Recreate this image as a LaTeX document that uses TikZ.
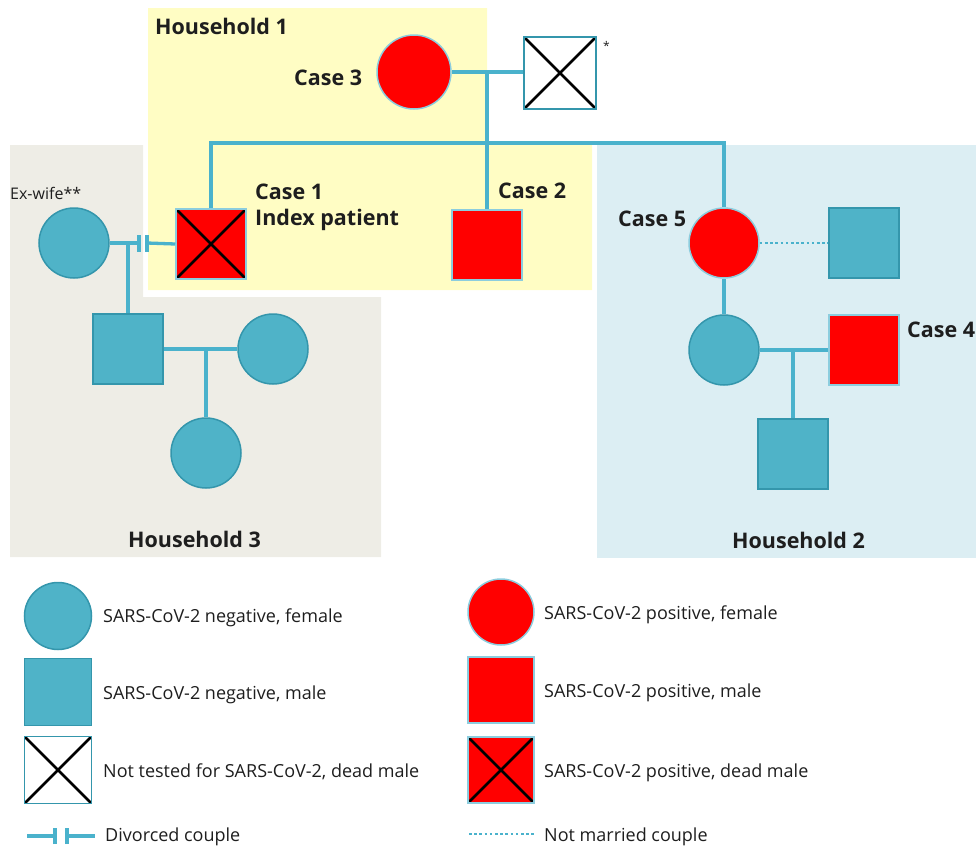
\documentclass[tikz,border=0pt]{standalone}
\usepackage{fontspec}
\setmainfont{Open Sans}
\definecolor{tealfill}{RGB}{79,179,200}
\definecolor{tealedge}{RGB}{52,150,172}
\definecolor{linecol}{RGB}{74,178,204}
\definecolor{posred}{RGB}{255,0,0}
\definecolor{posedge}{RGB}{140,205,222}
\definecolor{yellowbg}{RGB}{255,253,196}
\definecolor{graybg}{RGB}{238,237,230}
\definecolor{bluebg}{RGB}{220,238,243}
\definecolor{txt}{RGB}{30,30,30}
\tikzset{
  person/.style={inner sep=0pt, line width=1.5pt},
  female/.style={person, circle, minimum size=70pt},
  male/.style={person, rectangle, minimum size=70pt},
  negstyle/.style={fill=tealfill, draw=tealedge},
  posstyle/.style={fill=posred, draw=posedge},
  untested/.style={fill=white, draw=tealedge},
  dead/.style={path picture={\draw[black, line width=2.5pt]
     (path picture bounding box.south west) -- (path picture bounding box.north east)
     (path picture bounding box.north west) -- (path picture bounding box.south east);}},
  link/.style={draw=linecol, line width=3.3pt},
  unmarried/.style={draw=linecol, line width=2.8pt, dash pattern=on 2.6pt off 2.6pt},
  lbl/.style={font=\fontsize{21.5}{24}\selectfont\bfseries, text=txt, anchor=base west, inner sep=0pt},
  leg/.style={font=\fontsize{18}{20}\selectfont, text=txt, anchor=base west, inner sep=0pt},
}
\begin{document}
\begin{tikzpicture}[x=1pt,y=-1pt]
\useasboundingbox (0,0) rectangle (978,847);
% backgrounds
\fill[graybg] (10,145) -- (143,145) -- (143,297) -- (381,297) -- (381,557) -- (10,557) -- cycle;
\fill[yellowbg] (148,8) -- (487,8) -- (487,143) -- (592,143) -- (592,290) -- (148,290) -- cycle;
\fill[bluebg] (597,145) rectangle (976,558);

% people
\node[female,posstyle,minimum size=74pt] (c3) at (414,72) {};
\node[male,untested,dead,minimum size=72pt] (gf) at (560,73) {};
\node[male,posstyle,dead] (c1) at (211,244) {};
\node[male,posstyle] (c2) at (487,245) {};
\node[female,posstyle] (c5) at (724,243) {};
\node[male,negstyle] (p5) at (864,243) {};
\node[female,negstyle] (ex) at (74,243) {};
\node[male,negstyle] (son) at (128,349) {};
\node[female,negstyle] (sw) at (273,349) {};
\node[female,negstyle] (gd) at (206,453) {};
\node[female,negstyle] (dd) at (724,350) {};
\node[male,posstyle] (c4) at (864,350) {};
\node[male,negstyle] (gs) at (793,454) {};

% connectors
\coordinate (m1) at (487,72);
\coordinate (sib) at (487,143);
\draw[link] (c3.east) -- (c3.east -| gf.west);
\draw[link] (m1) -- (c2.north);
\draw[link] (c1.north) |- (c5.north |- sib) -- (c5.north);
\coordinate (dv1) at (139,243);
\coordinate (dv2) at (147,243);
\draw[link] (ex.east) -- (dv1);
\draw[link] (dv2) -- (c1.west);
\draw[link] ([yshift=-8.5pt]dv1) -- ([yshift=8.5pt]dv1);
\draw[link] ([yshift=-8.5pt]dv2) -- ([yshift=8.5pt]dv2);
\coordinate (d3) at (128,243);
\draw[link] (d3) -- (son.north);
\draw[link] (son.east) -- (sw.west);
\coordinate (d4) at (206,349);
\draw[link] (d4) -- (gd.north);
\draw[unmarried] (c5.east) -- (p5.west);
\draw[link] (c5.south) -- (dd.north);
\draw[link] (dd.east) -- (c4.west);
\coordinate (d5) at (793,350);
\draw[link] (d5) -- (gs.north);

% labels
\node[lbl] (h1) at (155,34) {Household 1};
\node[lbl] (l3) at (294,85) {Case 3};
\node[leg, font=\fontsize{12}{12}\selectfont] (star) at (603,50) {*};
\node[lbl] (l1) at (255,199) {Case 1};
\node[lbl] (l1b) at (255,225) {Index patient};
\node[lbl] (l2) at (498,198) {Case 2};
\node[lbl] (l5) at (618,226) {Case 5};
\node[lbl] (l4) at (907,337) {Case 4};
\node[leg, font=\fontsize{16}{18}\selectfont] (lx) at (10,199) {Ex-wife**};
\node[lbl] (h3) at (128,547) {Household 3};
\node[lbl] (h2) at (732,548) {Household 2};

% legend
\node[female,negstyle,minimum size=67pt] (k1) at (58,616) {};
\node[leg] (t1) at (103,622) {SARS-CoV-2 negative, female};
\node[male,negstyle,minimum size=67pt] (k2) at (58,692) {};
\node[leg] (t2) at (103,699) {SARS-CoV-2 negative, male};
\node[male,untested,dead,minimum size=67pt] (k3) at (58,770) {};
\node[leg] (t3) at (103,777) {Not tested for SARS-CoV-2, dead male};
\coordinate (k4a) at (27,836);
\coordinate (k4b) at (55,836);
\coordinate (k4c) at (67,836);
\coordinate (k4d) at (95,836);
\draw[link] (k4a) -- (k4b);
\draw[link] (k4c) -- (k4d);
\draw[link] ([yshift=-8pt]k4b) -- ([yshift=8pt]k4b);
\draw[link] ([yshift=-8pt]k4c) -- ([yshift=8pt]k4c);
\node[leg] (t4) at (105,841) {Divorced couple};

\node[female,posstyle,minimum size=66pt] (r1) at (501,612) {};
\node[leg] (u1) at (544,619) {SARS-CoV-2 positive, female};
\node[male,posstyle,minimum size=66pt] (r2) at (501,690) {};
\node[leg] (u2) at (544,697) {SARS-CoV-2 positive, male};
\node[male,posstyle,dead,minimum size=66pt] (r3) at (501,770) {};
\node[leg] (u3) at (544,777) {SARS-CoV-2 positive, dead male};
\coordinate (r4a) at (469,834);
\coordinate (r4b) at (534,834);
\draw[unmarried] (r4a) -- (r4b);
\node[leg] (u4) at (544,841) {Not married couple};
\end{tikzpicture}
\end{document}
